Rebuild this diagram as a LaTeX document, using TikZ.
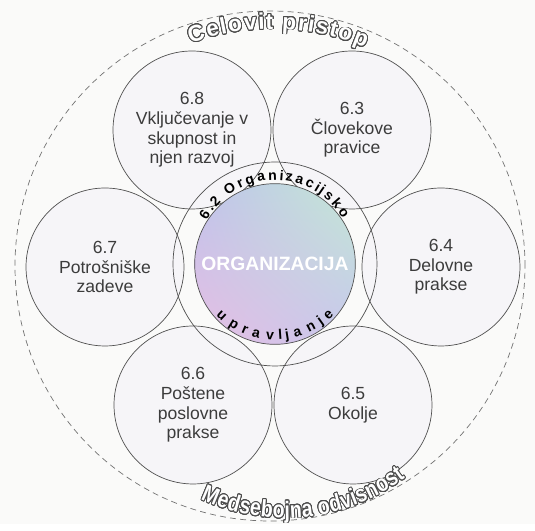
\documentclass[tikz,border=0pt]{standalone}
\usepackage{fontspec}
\setmainfont{Liberation Sans}
\newfontfamily\narrowfont[FakeStretch=0.82]{Liberation Sans}
\usepackage[copies]{contour}
\usetikzlibrary{decorations.text,shadings}
\contourlength{0.5pt}
\contournumber{24}

\definecolor{BG}{HTML}{FAFAF9}
\definecolor{TC}{HTML}{F4F1F8}
\definecolor{LN}{HTML}{505050}
\definecolor{TX}{HTML}{3C3C3C}
\definecolor{UL}{HTML}{BEC3EC}
\definecolor{UR}{HTML}{C4E8D4}
\definecolor{LL}{HTML}{E8BEE2}
\definecolor{LR}{HTML}{C6C7EE}

\newcommand\hollowtop[1]{{\fontsize{13}{14}\selectfont\bfseries\rlap{\contour{black!70}{\color{white}#1}}\phantom{#1}}}
\newcommand\hollowbot[1]{{\narrowfont\fontsize{13.5}{14}\selectfont\bfseries\rlap{\contour{black!70}{\color{white}#1}}\phantom{#1}}}
\newcommand\ringchar[1]{{\fontsize{8}{9}\selectfont\bfseries #1}}

\begin{document}
\begin{tikzpicture}[x=0.02cm, y=0.02cm,
    topic/.style={draw=LN, circle, fill=TC, fill opacity=0.5, text opacity=1, text=TX, inner sep=0pt, minimum size=3.16cm, align=center, font=\fontsize{10}{11.2}\selectfont},
    arctext/.style 2 args={decorate, decoration={text effects along path, text={#2}, text effects/.cd, text along path, fit text to path, character command=#1}}]
    \fill[BG] (-272,-257) rectangle (263,267);
    \draw[LN!80, dash pattern=on 3.4pt off 2.4pt] (-2,1) circle[radius=255];
    \node[topic] (P68) at (-80,137) {6.8\\Vključevanje v\\skupnost in\\njen razvoj};
    \node[topic] (P63) at (80,137) {6.3\\Človekove\\pravice};
    \node[topic] (P67) at (-167,0) {6.7\\Potrošniške\\zadeve};
    \node[topic] (P64) at (169,0) {6.4\\Delovne\\prakse};
    \node[topic] (P66) at (-79,-138) {6.6\\Poštene\\poslovne\\prakse};
    \node[topic] (P65) at (81,-138) {6.5\\Okolje};
    \node[draw=LN, circle, minimum size=4.08cm] (R) at (3,3) {};
    \node[draw=LN, circle, minimum size=3.2cm, upper left=UL, upper right=UR, lower left=LL, lower right=LR, text=white, font=\fontsize{11}{12}\selectfont\bfseries] (O) at (3,3) {ORGANIZACIJA};
    \coordinate (T) at (3,9);
    \path[arctext={\ringchar}{6.2 Organizacijsko}] ([shift={(151:78)}]T) arc[start angle=151, end angle=30, radius=78];
    \path[arctext={\ringchar}{upravljanje}] ([shift={(224:82)}]T) arc[start angle=224, end angle=316, radius=82];
    \path[arctext={\hollowtop}{Celovit pristop}] (110:238) arc[start angle=110, end angle=67, radius=238];
    \path[arctext={\hollowbot}{Medsebojna odvisnost}] ([shift={(245:200)}]13,-51) arc[start angle=245, end angle=307, radius=200];
\end{tikzpicture}
\end{document}
